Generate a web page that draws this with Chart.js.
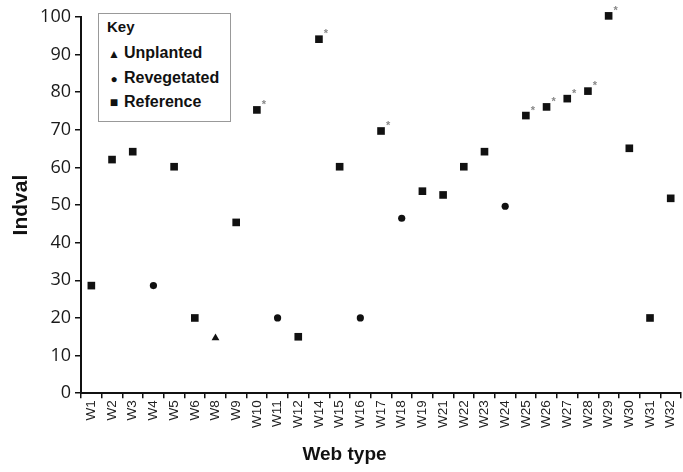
<!DOCTYPE html>
<html>
<head>
<meta charset="utf-8">
<script src="https://cdn.jsdelivr.net/npm/chart.js@4/dist/chart.umd.min.js"></script>
<style>
  html, body { margin: 0; padding: 0; background: #fff; overflow: hidden; }
  #wrap { position: relative; width: 689px; height: 472px; }
  #key {
    position: absolute; left: 98px; top: 13px; width: 131px; height: 107px;
    border: 1px solid #999; background: #fff;
    font-family: "Liberation Sans", Arial, sans-serif; font-weight: bold; font-size: 16px; color: #111;
  }
  #key .title { position: absolute; left: 8px; top: 4px; font-size: 15px; }
  #key .item { position: absolute; left: 8px; height: 20px; line-height: 20px; white-space: nowrap; }
  #key .mk { display: inline-block; width: 14px; text-align: center; margin-right: 3px; font-size: 12px; }
</style>
</head>
<body>
<div id="wrap">
  <canvas id="chart" width="689" height="472"></canvas>
  <div id="key">
    <div class="title">Key</div>
    <div class="item" style="top:29px"><span class="mk">&#9650;</span>Unplanted</div>
    <div class="item" style="top:54px"><span class="mk">&#9679;</span>Revegetated</div>
    <div class="item" style="top:78px"><span class="mk" style="font-size:14px">&#9632;</span>Reference</div>
  </div>
</div>
<script>
const webTypes = ['W1','W2','W3','W4','W5','W6','W8','W9','W10','W11','W12','W14','W15','W16','W17',
                  'W18','W19','W21','W22','W23','W24','W25','W26','W27','W28','W29','W30','W31','W32'];
const indval   = [28.6, 62.1, 64.2, 28.6, 60.2, 20.0, 14.7, 45.4, 75.3, 20.0, 15.0, 94.1, 60.2, 20.0, 69.7,
                  46.5, 53.7, 52.7, 60.2, 64.2, 49.7, 73.8, 76.1, 78.3, 80.3, 100.3, 65.1, 20.0, 51.8];
const habitat  = ['R','R','R','V','R','R','U','R','R','V','R','R','R','V','R',
                  'V','R','R','R','R','V','R','R','R','R','R','R','R','R'];
const significant = ['W10','W14','W17','W25','W26','W27','W28','W29'];
const yTicks = [0, 10, 20, 30, 40, 50, 60, 70, 80, 90, 100];

const pick = code => indval.map((v, i) => habitat[i] === code ? v : null);

// little grey asterisk beside the significant indicator values
const starPlugin = {
    id: 'stars',
    afterDatasetsDraw(chart) {
        const ctx = chart.ctx;
        const xs = chart.scales.x, ys = chart.scales.y;
        ctx.save();
        ctx.fillStyle = '#888';
        ctx.font = 'bold 11px "Liberation Sans", Arial, sans-serif';
        ctx.textAlign = 'center';
        ctx.textBaseline = 'middle';
        significant.forEach(w => {
            const i = webTypes.indexOf(w);
            const x = xs.getPixelForValue(i), y = ys.getPixelForValue(indval[i]);
            ctx.fillText('*', x + 7, y - 5);
        });
        ctx.restore();
    }
};

const pointDs = (label, code, style, radius) => ({
    label, data: pick(code), showLine: false, clip: false,
    pointStyle: style, pointRadius: radius, pointHoverRadius: radius,
    backgroundColor: '#111', borderColor: '#111', pointBorderWidth: 0
});

new Chart(document.getElementById('chart'), {
    type: 'line',
    data: {
        labels: webTypes,
        datasets: [
            pointDs('Unplanted', 'U', 'triangle', 4.5),
            pointDs('Revegetated', 'V', 'circle', 3.6),
            pointDs('Reference', 'R', 'rect', 5.4)
        ]
    },
    options: {
        responsive: false, animation: false,
        layout: { padding: { top: 17, left: 0, right: 0, bottom: 0 } },
        plugins: {
            legend: { display: false }, tooltip: { enabled: false },
            title: {
                display: true, position: 'bottom', text: 'Web type', color: '#111',
                font: { family: '"Liberation Sans", Arial, sans-serif', size: 19, weight: 'bold', lineHeight: 1.2 },
                padding: { top: 0, bottom: 6 }
            }
        },
        scales: {
            x: {
                offset: true,
                grid: { offset: true, drawOnChartArea: false, tickLength: 5, color: '#111', lineWidth: 1.5 },
                border: { color: '#111', width: 2 },
                ticks: {
                    autoSkip: false, minRotation: 90, maxRotation: 90, padding: 2, color: '#222',
                    font: { family: '"Liberation Sans", Arial, sans-serif', size: 13.5 }
                },
                afterFit: s => { s.height = 50; }
            },
            y: {
                min: 0, max: 100,
                afterBuildTicks: s => { s.ticks = yTicks.map(v => ({ value: v })); },
                grid: { drawOnChartArea: false, tickLength: 6, color: '#111', lineWidth: 1.5 },
                border: { color: '#111', width: 2 },
                ticks: { padding: 4, color: '#1a1a1a', font: { family: '"Open Sans", sans-serif', size: 18 } },
                title: {
                    display: true, text: 'Indval', color: '#111', padding: { top: 9, bottom: 0 },
                    font: { family: '"Liberation Sans", Arial, sans-serif', size: 21, weight: 'bold' }
                },
                afterFit: s => { s.width = 81; }
            }
        }
    },
    plugins: [starPlugin]
});
</script>
</body>
</html>
